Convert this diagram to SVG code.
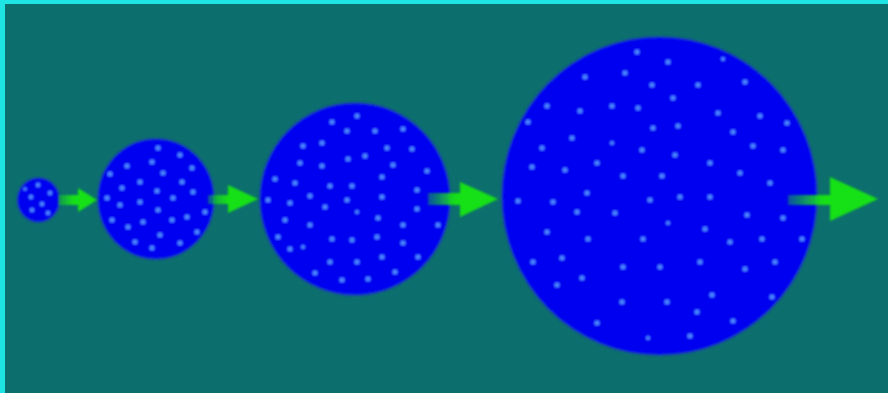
<svg xmlns="http://www.w3.org/2000/svg" width="888" height="393" viewBox="0 0 888 393">
<style>
.ball{fill:#0505f0;stroke:#1a40c8;stroke-width:2;stroke-opacity:0.6}
.d{fill:#4a86ff}
.arr{fill:url(#ag)}
</style>
<defs>
<filter id="soft" x="-5%" y="-5%" width="110%" height="110%"><feGaussianBlur stdDeviation="0.8"/></filter>
<linearGradient id="ag" x1="0" y1="0" x2="1" y2="0">
<stop offset="0" stop-color="#18e018" stop-opacity="0.35"/>
<stop offset="0.4" stop-color="#18e018" stop-opacity="1"/>
<stop offset="1" stop-color="#18e018"/>
</linearGradient>
</defs>
<rect x="0" y="0" width="888" height="393" fill="#0d6e6e"/>
<rect x="0" y="0" width="888" height="4" fill="#1ee4e4"/>
<rect x="0" y="0" width="5" height="393" fill="#1ee4e4"/>

<g id="c1" filter="url(#soft)">
<ellipse class="ball" cx="38.5" cy="200" rx="21" ry="22"/>
<g class="d">
<circle cx="38" cy="185" r="2.2"/><circle cx="50" cy="193" r="2.2"/><circle cx="31" cy="197" r="2.2"/><circle cx="42" cy="204" r="2.2"/><circle cx="32" cy="210" r="2.2"/><circle cx="48" cy="213" r="2.2"/><circle cx="25" cy="189" r="1.8"/>
</g>
</g>

<g id="c2" filter="url(#soft)">
<ellipse class="ball" cx="156" cy="199" rx="58" ry="60"/>
<g class="d">
<circle cx="158" cy="148" r="2.5"/><circle cx="180" cy="155" r="2.5"/><circle cx="127" cy="166" r="2.5"/><circle cx="152" cy="162" r="2.5"/><circle cx="192" cy="168" r="2.5"/><circle cx="110" cy="174" r="2.5"/><circle cx="163" cy="173" r="2.5"/><circle cx="182" cy="182" r="2.5"/><circle cx="140" cy="182" r="2.5"/><circle cx="122" cy="188" r="2.5"/><circle cx="157" cy="191" r="2.5"/><circle cx="193" cy="192" r="2.5"/><circle cx="107" cy="198" r="2.5"/><circle cx="140" cy="202" r="2.5"/><circle cx="173" cy="198" r="2.5"/><circle cx="120" cy="205" r="2.5"/><circle cx="158" cy="210" r="2.5"/><circle cx="205" cy="212" r="2.5"/><circle cx="112" cy="220" r="2.5"/><circle cx="128" cy="227" r="2.5"/><circle cx="143" cy="222" r="2.5"/><circle cx="172" cy="220" r="2.5"/><circle cx="187" cy="217" r="2.5"/><circle cx="197" cy="232" r="2.5"/><circle cx="160" cy="235" r="2.5"/><circle cx="135" cy="242" r="2.5"/><circle cx="152" cy="248" r="2.5"/><circle cx="180" cy="243" r="2.5"/>
</g>
</g>

<g id="c3" filter="url(#soft)">
<ellipse class="ball" cx="355" cy="199" rx="95" ry="96"/>
<g class="d">
<circle cx="357" cy="116" r="2.5"/><circle cx="332" cy="122" r="2.5"/><circle cx="347" cy="131" r="2.5"/><circle cx="375" cy="131" r="2.5"/><circle cx="403" cy="129" r="2.5"/><circle cx="303" cy="146" r="2.5"/><circle cx="322" cy="143" r="2.5"/><circle cx="387" cy="148" r="2.5"/><circle cx="412" cy="149" r="2.5"/><circle cx="348" cy="159" r="2.5"/><circle cx="365" cy="156" r="2.5"/><circle cx="300" cy="163" r="2.5"/><circle cx="322" cy="166" r="2.5"/><circle cx="393" cy="165" r="2.5"/><circle cx="427" cy="171" r="2.5"/><circle cx="275" cy="179" r="2.5"/><circle cx="295" cy="183" r="2.5"/><circle cx="330" cy="186" r="2.5"/><circle cx="352" cy="186" r="2.5"/><circle cx="382" cy="177" r="2.5"/><circle cx="417" cy="190" r="2.5"/><circle cx="310" cy="196" r="2.5"/><circle cx="347" cy="200" r="2.5"/><circle cx="382" cy="197" r="2.5"/><circle cx="268" cy="200" r="2.5"/><circle cx="290" cy="203" r="2.5"/><circle cx="325" cy="207" r="2.5"/><circle cx="357" cy="212" r="2"/><circle cx="417" cy="209" r="2.5"/><circle cx="378" cy="218" r="2.5"/><circle cx="285" cy="220" r="2.5"/><circle cx="310" cy="225" r="2.5"/><circle cx="403" cy="225" r="2.5"/><circle cx="438" cy="225" r="2.5"/><circle cx="278" cy="237" r="2.5"/><circle cx="332" cy="239" r="2.5"/><circle cx="352" cy="240" r="2.5"/><circle cx="377" cy="237" r="2.5"/><circle cx="403" cy="243" r="2.5"/><circle cx="290" cy="249" r="2.5"/><circle cx="303" cy="247" r="2"/><circle cx="330" cy="262" r="2.5"/><circle cx="357" cy="262" r="2.5"/><circle cx="382" cy="257" r="2.5"/><circle cx="418" cy="257" r="2.5"/><circle cx="315" cy="273" r="2.5"/><circle cx="342" cy="280" r="2.5"/><circle cx="368" cy="279" r="2.5"/><circle cx="395" cy="272" r="2.5"/>
</g>
</g>

<g id="c4" filter="url(#soft)">
<ellipse class="ball" cx="659.5" cy="196" rx="157.5" ry="159"/>
<g class="d">
<circle cx="637" cy="52" r="2.5"/><circle cx="668" cy="62" r="2.5"/><circle cx="585" cy="77" r="2.5"/><circle cx="625" cy="73" r="2.5"/><circle cx="652" cy="85" r="2.5"/><circle cx="698" cy="85" r="2.5"/><circle cx="745" cy="82" r="2.5"/><circle cx="723" cy="59" r="2"/><circle cx="547" cy="106" r="2.5"/><circle cx="580" cy="111" r="2.5"/><circle cx="612" cy="106" r="2.5"/><circle cx="638" cy="108" r="2.5"/><circle cx="673" cy="98" r="2.5"/><circle cx="718" cy="113" r="2.5"/><circle cx="760" cy="116" r="2.5"/><circle cx="787" cy="123" r="2.5"/><circle cx="528" cy="122" r="2.5"/><circle cx="572" cy="138" r="2.5"/><circle cx="612" cy="143" r="2"/><circle cx="653" cy="128" r="2.5"/><circle cx="678" cy="126" r="2.5"/><circle cx="733" cy="132" r="2.5"/><circle cx="753" cy="146" r="2.5"/><circle cx="783" cy="150" r="2.5"/><circle cx="542" cy="148" r="2.5"/><circle cx="642" cy="150" r="2.5"/><circle cx="675" cy="155" r="2.5"/><circle cx="710" cy="163" r="2.5"/><circle cx="740" cy="173" r="2.5"/><circle cx="770" cy="183" r="2.5"/><circle cx="532" cy="167" r="2.5"/><circle cx="565" cy="170" r="2.5"/><circle cx="597" cy="163" r="2.5"/><circle cx="623" cy="176" r="2.5"/><circle cx="662" cy="176" r="2.5"/><circle cx="587" cy="193" r="2.5"/><circle cx="518" cy="201" r="2.5"/><circle cx="553" cy="202" r="2.5"/><circle cx="577" cy="212" r="2.5"/><circle cx="615" cy="213" r="2.5"/><circle cx="650" cy="200" r="2.5"/><circle cx="680" cy="197" r="2.5"/><circle cx="710" cy="197" r="2.5"/><circle cx="747" cy="215" r="2.5"/><circle cx="783" cy="218" r="2.5"/><circle cx="668" cy="223" r="2"/><circle cx="547" cy="232" r="2.5"/><circle cx="588" cy="239" r="2.5"/><circle cx="643" cy="239" r="2.5"/><circle cx="705" cy="229" r="2.5"/><circle cx="730" cy="242" r="2.5"/><circle cx="762" cy="239" r="2.5"/><circle cx="802" cy="239" r="2.5"/><circle cx="533" cy="262" r="2.5"/><circle cx="562" cy="258" r="2.5"/><circle cx="623" cy="267" r="2.5"/><circle cx="660" cy="267" r="2.5"/><circle cx="700" cy="262" r="2.5"/><circle cx="745" cy="269" r="2.5"/><circle cx="775" cy="262" r="2.5"/><circle cx="557" cy="285" r="2.5"/><circle cx="582" cy="278" r="2.5"/><circle cx="622" cy="302" r="2.5"/><circle cx="667" cy="302" r="2.5"/><circle cx="697" cy="312" r="2.5"/><circle cx="712" cy="295" r="2.5"/><circle cx="772" cy="297" r="2.5"/><circle cx="733" cy="321" r="2.5"/><circle cx="597" cy="323" r="2.5"/><circle cx="648" cy="338" r="2"/><circle cx="690" cy="336" r="2.5"/>
</g>
</g>

<g id="connectors" filter="url(#soft)">
<polygon class="arr" points="58,195 78,195 78,188 97,200 78,212 78,205 58,205"/>
<polygon class="arr" points="208,195 228,195 228,185 258,199 228,213 228,204 208,204"/>
<polygon class="arr" points="428,193 460,193 460,182 498,199 460,217 460,205 428,205"/>
<polygon class="arr" points="788,195 830,195 830,177 878,199 830,221 830,205 788,205"/>
</g>
</svg>
